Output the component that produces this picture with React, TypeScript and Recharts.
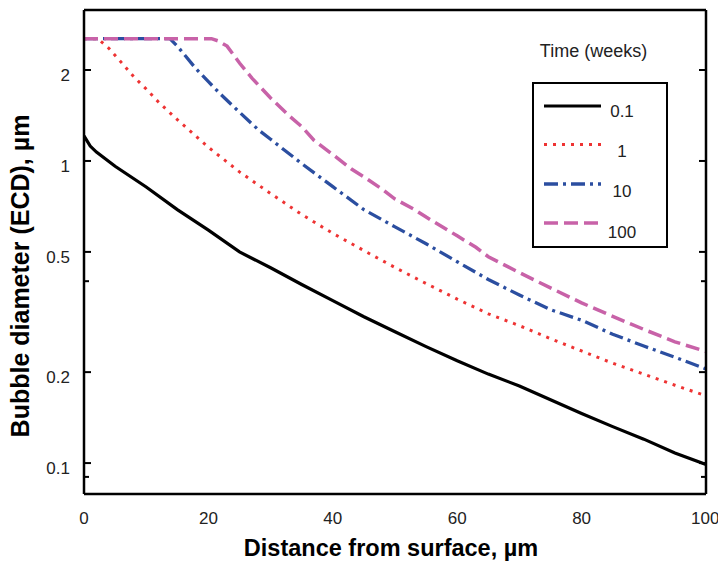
import React from 'react';
import { LineChart, Line, XAxis, YAxis, Legend } from 'recharts';

// distance from surface (µm) and bubble diameter (µm) for each ageing time
const dist01 = [0, 1, 2, 5, 10, 15, 20, 25, 30, 35, 40, 45, 50, 55, 60, 65, 70, 75, 80, 85, 90, 95, 100];
const diam01 = [1.21, 1.12, 1.07, 0.96, 0.82, 0.69, 0.59, 0.5, 0.443, 0.39, 0.345, 0.305, 0.272, 0.243, 0.218, 0.197, 0.18, 0.162, 0.146, 0.132, 0.12, 0.108, 0.099];

const dist1 = [0, 2.2, 4, 6, 8, 10, 12, 15, 20, 25, 30, 35, 40, 45, 50, 55, 60, 65, 70, 75, 80, 85, 90, 95, 100];
const diam1 = [2.54, 2.54, 2.36, 2.12, 1.9, 1.73, 1.565, 1.37, 1.11, 0.92, 0.78, 0.665, 0.576, 0.505, 0.444, 0.393, 0.349, 0.312, 0.285, 0.258, 0.235, 0.214, 0.197, 0.181, 0.167];

const dist10 = [0, 13.8, 15, 18, 20, 22, 25, 28, 30, 35, 40, 45, 50, 55, 60, 65, 70, 75, 80, 85, 90, 95, 100];
const diam10 = [2.54, 2.54, 2.4, 2.02, 1.83, 1.66, 1.45, 1.27, 1.18, 0.98, 0.822, 0.69, 0.605, 0.532, 0.464, 0.405, 0.36, 0.322, 0.297, 0.267, 0.244, 0.224, 0.205];

const dist100 = [0, 20.5, 21.5, 23, 25, 27, 30, 33, 35, 37, 40, 43, 45, 48, 50, 53, 55, 60, 63, 65, 70, 75, 80, 85, 90, 95, 100];
const diam100 = [2.54, 2.54, 2.5, 2.4, 2.11, 1.88, 1.615, 1.41, 1.3, 1.17, 1.05, 0.94, 0.886, 0.805, 0.748, 0.693, 0.652, 0.565, 0.518, 0.482, 0.427, 0.38, 0.339, 0.306, 0.277, 0.252, 0.234];

const xTicks = [0, 20, 40, 60, 80, 100];
const yTicks = [0.1, 0.2, 0.5, 1, 2];
const yMinorTicks = [0.09, 0.4];

const toRows = (xs: number[], ys: number[]) => xs.map((x, i) => ({ x, d: ys[i] }));

const SERIES = [
  { name: '0.1', rows: toRows(dist01, diam01), color: '#000000', dash: undefined, width: 3.2 },
  { name: '1', rows: toRows(dist1, diam1), color: '#EE3333', dash: '3 6', width: 3 },
  { name: '10', rows: toRows(dist10, diam10), color: '#2B4EA0', dash: '14 5 3 5', width: 3.3 },
  { name: '100', rows: toRows(dist100, diam100), color: '#C862A8', dash: '14 6', width: 3.5 },
];

const FONT = '"Liberation Sans", Arial, sans-serif';
const X_DOMAIN = [0, 100];
const Y_DOMAIN = [0.079, 3.16];

function LegendBox() {
  const rowY = [68, 106.5, 146, 185];
  const labelY = [79, 119, 159, 200];
  return (
    <svg width={140} height={215} style={{ overflow: 'visible', fontFamily: FONT }}>
      <text x={61.5} y={19} textAnchor="middle" fontSize={18} fill="#222">
        Time (weeks)
      </text>
      <rect x={1} y={45} width={134} height={164} fill="none" stroke="#000" strokeWidth={2} />
      {SERIES.map((s, i) => (
        <g key={s.name}>
          <line x1={12} x2={69} y1={rowY[i]} y2={rowY[i]} stroke={s.color} strokeWidth={s.width} strokeDasharray={s.dash} />
          <text x={90} y={labelY[i]} textAnchor="middle" fontSize={17} fill="#222">
            {s.name}
          </text>
        </g>
      ))}
    </svg>
  );
}

export default function App() {
  const tickStyle = { fontSize: 17, fill: '#222', fontFamily: FONT };
  const frame = { stroke: '#000', strokeWidth: 2.5 };
  const tickLn = { stroke: '#000', strokeWidth: 2 };
  const noLabel = { fontSize: 0, fill: 'none' };
  const blank = () => '';
  return (
    <div style={{ position: 'absolute', left: 0, top: 0, background: '#fff' }}>
      <LineChart width={718} height={567} margin={{ top: 10, right: 12, bottom: 0, left: 0 }}>
        {/* labelled axes */}
        <XAxis
          xAxisId="x"
          type="number"
          dataKey="x"
          domain={X_DOMAIN}
          allowDataOverflow
          ticks={xTicks}
          height={73}
          tickLine={false}
          tickSize={0}
          tickMargin={18}
          axisLine={frame}
          tick={tickStyle}
          label={{
            content: ({ viewBox }: any) => (
              <text
                x={viewBox.x + viewBox.width / 2 - 4}
                y={556}
                textAnchor="middle"
                fontSize={23.5}
                fontWeight="bold"
                fontFamily={FONT}
                fill="#000"
              >
                Distance from surface, µm
              </text>
            ),
          }}
        />
        <YAxis
          yAxisId="y"
          type="number"
          scale="log"
          domain={Y_DOMAIN}
          allowDataOverflow
          ticks={yTicks}
          width={84}
          tickLine={false}
          tickSize={0}
          tickMargin={14}
          axisLine={frame}
          tick={{ ...tickStyle, dy: 5 }}
          tickFormatter={(v: number) => String(v)}
          label={{
            content: ({ viewBox }: any) => {
              const cy = viewBox.y + viewBox.height / 2 + 24;
              return (
                <text
                  transform={`translate(28.5, ${cy}) rotate(-90)`}
                  textAnchor="middle"
                  fontSize={25}
                  fontWeight="bold"
                  fontFamily={FONT}
                  fill="#000"
                >
                  Bubble diameter (ECD), µm
                </text>
              );
            },
          }}
        />
        {/* inward ticks and frame */}
        <XAxis xAxisId="xb" type="number" domain={X_DOMAIN} allowDataOverflow ticks={xTicks} mirror orientation="bottom" height={1} tick={noLabel} tickFormatter={blank} tickSize={7} tickLine={tickLn} axisLine={false} />
        <XAxis xAxisId="xt" type="number" domain={X_DOMAIN} allowDataOverflow ticks={xTicks} mirror orientation="top" height={1} tick={noLabel} tickFormatter={blank} tickSize={7} tickLine={tickLn} axisLine={frame} />
        <YAxis yAxisId="yl" type="number" scale="log" domain={Y_DOMAIN} allowDataOverflow ticks={yTicks} mirror orientation="left" width={1} tick={noLabel} tickFormatter={blank} tickSize={7} tickLine={tickLn} axisLine={false} />
        <YAxis yAxisId="ylm" type="number" scale="log" domain={Y_DOMAIN} allowDataOverflow ticks={yMinorTicks} mirror orientation="left" width={1} tick={noLabel} tickFormatter={blank} tickSize={4} tickLine={tickLn} axisLine={false} />
        <YAxis yAxisId="yr" type="number" scale="log" domain={Y_DOMAIN} allowDataOverflow ticks={yTicks} mirror orientation="right" width={1} tick={noLabel} tickFormatter={blank} tickSize={7} tickLine={tickLn} axisLine={frame} />
        <YAxis yAxisId="yrm" type="number" scale="log" domain={Y_DOMAIN} allowDataOverflow ticks={yMinorTicks} mirror orientation="right" width={1} tick={noLabel} tickFormatter={blank} tickSize={4} tickLine={tickLn} axisLine={false} />
        {SERIES.map((s) => (
          <Line
            key={s.name}
            xAxisId="x"
            yAxisId="y"
            data={s.rows}
            dataKey="d"
            name={s.name}
            type="linear"
            stroke={s.color}
            strokeWidth={s.width}
            strokeDasharray={s.dash}
            dot={false}
            activeDot={false}
            isAnimationActive={false}
          />
        ))}
        <Legend
          layout="horizontal"
          verticalAlign="middle"
          align="center"
          wrapperStyle={{ left: 532, top: 38, width: 140, height: 215 }}
          content={() => <LegendBox />}
        />
      </LineChart>
    </div>
  );
}
